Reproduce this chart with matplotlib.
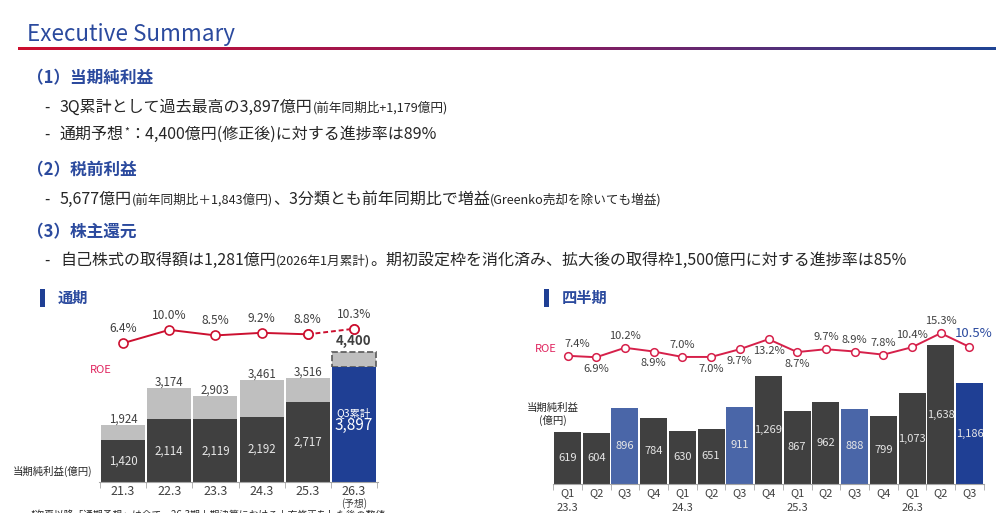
import numpy as np
import matplotlib
matplotlib.use("Agg")
import matplotlib.pyplot as plt
from matplotlib.colors import LinearSegmentedColormap

plt.rcParams['font.family'] = ['Noto Sans CJK JP', 'DejaVu Sans']

W, H = 999, 513

# ---- 通期 data ----
fy_labels = ['21.3', '22.3', '23.3', '24.3', '25.3', '26.3']
fy_total = [1924, 3174, 2903, 3461, 3516]          # 通期実績
fy_q3 = [1420, 2114, 2119, 2192, 2717, 3897]       # Q3累計
fy_forecast = 4400                                   # 26.3 通期予想
fy_roe = [6.4, 10.0, 8.5, 9.2, 8.8, 10.3]

# ---- 四半期 data ----
q_labels = ['Q1', 'Q2', 'Q3', 'Q4'] * 3 + ['Q1', 'Q2', 'Q3']
q_years = ['23.3', '24.3', '25.3', '26.3']
q_profit = [619, 604, 896, 784, 630, 651, 911, 1269, 867, 962, 888, 799, 1073, 1638, 1186]
q_roe = [7.4, 6.9, 10.2, 8.9, 7.0, 7.0, 9.7, 13.2, 8.7, 9.7, 8.9, 7.8, 10.4, 15.3, 10.5]
q_roe_side = ['a', 'b', 'a', 'b', 'a', 'b', 'b', 'b', 'b', 'a', 'a', 'a', 'a', 'a', 'r']

BLUE = '#2b4a9e'
DEEP = '#1f3f94'
MID = '#4a66a8'
DARK = '#404040'
LIGHT = '#bfbfbf'
TXT = '#262626'
RED = '#cc1030'

fig = plt.figure(figsize=(W / 100, H / 100), dpi=100)
renderer = fig.canvas.get_renderer()


def px_axes(x0, y0, x1, y1):
    return fig.add_axes([x0 / W, 1 - y1 / H, (x1 - x0) / W, (y1 - y0) / H])


def ftext(x, y, s, **kw):
    return fig.text(x / W, 1 - y / H, s, **kw)


def seg_line(x, y, parts):
    # parts: (text, size, dy) drawn one after another on a common baseline
    for s, size, dy in parts:
        t = ftext(x, y - dy, s, fontsize=size, color=TXT, va='baseline', ha='left')
        bb = t.get_window_extent(renderer)
        x = bb.x1


BIG, SMALL = 11.5, 9.1

# ---- header ----
ftext(27, 34, 'Executive Summary', fontsize=16.2, color=BLUE, va='center')
gax = px_axes(18, 47, 995, 50)
cmap = LinearSegmentedColormap.from_list('g', [(0, '#cc0e2e'), (0.55, '#8a1a5e'), (1, '#1f4494')])
gax.imshow(np.linspace(0, 1, 256)[None, :], aspect='auto', cmap=cmap, extent=[0, 1, 0, 1])
gax.axis('off')

ftext(27, 78, '（1）当期純利益', fontsize=12, color=BLUE, fontweight='bold', va='center')
ftext(27, 170, '（2）税前利益', fontsize=12, color=BLUE, fontweight='bold', va='center')
ftext(27, 232, '（3）株主還元', fontsize=12, color=BLUE, fontweight='bold', va='center')

for yb in [112, 139, 204, 265]:
    ftext(44, yb, '-', fontsize=11, color=TXT, va='baseline')

seg_line(60, 112, [('3Q累計として過去最高の3,897億円', BIG, 0), ('(前年同期比+1,179億円)', SMALL, 0)])
seg_line(60, 139, [('通期予想', BIG, 0), ('*', 7.5, 5), ('：4,400億円(修正後)に対する進捗率は89%', BIG, 0)])
seg_line(60, 204, [('5,677億円', BIG, 0), ('(前年同期比＋1,843億円)', SMALL, 0),
                   ('、3分類とも前年同期比で増益', BIG, 0),
                   ('(Greenko売却を除いても増益)', SMALL, 0)])
seg_line(60, 265, [('自己株式の取得額は1,281億円', BIG, 0), ('(2026年1月累計)', SMALL, 0),
                   ('。期初設定枠を消化済み、拡大後の取得枠1,500億円に対する進捗率は85%', BIG, 0)])

# ---- section markers ----
for x0, title in [(40, '通期'), (544, '四半期')]:
    m = px_axes(x0, 289, x0 + 4.5, 307)
    m.set_facecolor(DEEP)
    m.set_xticks([]); m.set_yticks([])
    for sp in m.spines.values():
        sp.set_visible(False)
    ftext(x0 + 18, 298, title, fontsize=11, color=BLUE, fontweight='bold', va='center')


def style_axis(ax, n):
    for k in ['top', 'left', 'right']:
        ax.spines[k].set_visible(False)
    ax.spines['bottom'].set_color('#a6a6a6')
    ax.set_yticks([])
    ax.set_xticks(range(n))
    ax.set_xticks(np.arange(-0.5, n), minor=True)
    ax.tick_params(axis='x', which='major', length=0, pad=2, labelsize=9, labelcolor=DARK)
    ax.tick_params(axis='x', which='minor', length=4, color='#a6a6a6')
    ax.patch.set_alpha(0)


# ---- 通期 chart ----
ax1 = px_axes(99, 290, 378, 482)
x1 = np.arange(len(fy_labels))
ax1.set_xlim(-0.52, 5.52)
ax1.set_ylim(0, 192 * 33.8)
ax1.bar(x1[:5], fy_total, width=0.95, color=LIGHT)
ax1.bar(x1[5], fy_forecast - fy_q3[5], bottom=fy_q3[5], width=0.95, color=LIGHT,
        edgecolor='#595959', linestyle='--', linewidth=1.2)
ax1.bar(x1, fy_q3, width=0.95, color=[DARK] * 5 + [DEEP])
style_axis(ax1, len(fy_labels))
ax1.set_xticklabels(fy_labels)
ax1.annotate('(予想)', (5, 0), xytext=(0, -15.5), textcoords='offset points',
             ha='center', va='center', fontsize=7, color=DARK, annotation_clip=False)
for i, v in enumerate(fy_total):
    ax1.annotate(f'{v:,}', (i, v), xytext=(0, 4), textcoords='offset points',
                 ha='center', va='center', fontsize=8.3, color=DARK)
for i, v in enumerate(fy_q3[:5]):
    ax1.text(i, v / 2, f'{v:,}', ha='center', va='center', fontsize=8.3, color='#e6e6e6')
ax1.annotate(f'{fy_forecast:,}', (5, fy_forecast), xytext=(0, 7.5), textcoords='offset points',
             ha='center', va='center', fontsize=9.5, fontweight='bold', color=DARK)
ax1.annotate('Q3累計', (5, fy_q3[5]), xytext=(0, -33), textcoords='offset points',
             ha='center', va='center', fontsize=7.5, color='white')
ax1.annotate(f'{fy_q3[5]:,}', (5, fy_q3[5]), xytext=(0, -42), textcoords='offset points',
             ha='center', va='center', fontsize=11, color='white')

ax1r = ax1.twinx()
ax1r.set_ylim(-31.2, 20.8)
ax1r.axis('off')
ax1r.plot(x1[:5], fy_roe[:5], color=RED, lw=1.4, marker='o', ms=6.5, mfc='white', mec=RED, mew=1.2)
ax1r.plot(x1[4:], fy_roe[4:], color=RED, lw=1.4, ls='--', marker='o', ms=6.5, mfc='white',
          mec=RED, mew=1.2, dashes=(2.5, 1.5))
ax1r.plot(x1[5], fy_roe[5], ls='none', marker='o', ms=6.5, mfc='white', mec=RED, mew=1.2)
for i, v in enumerate(fy_roe):
    ax1r.annotate(f'{v:.1f}%', (i, v), xytext=(0, 10.5), textcoords='offset points',
                  ha='center', va='center', fontsize=8.6, color=DARK)

ftext(101, 370, 'ROE', fontsize=8, color='#e0245e', ha='center', va='center')
ftext(53, 471, '当期純利益(億円)', fontsize=7.5, color=TXT, ha='center', va='center')

# ---- 四半期 chart ----
ax2 = px_axes(552.6, 300, 984.4, 484)
x2 = np.arange(len(q_profit))
ax2.set_xlim(-0.52, 14.52)
ax2.set_ylim(0, 184 * 11.8)
q_colors = [DEEP if i == len(q_profit) - 1 else (MID if q == 'Q3' else DARK)
            for i, q in enumerate(q_labels)]
ax2.bar(x2, q_profit, width=0.94, color=q_colors)
style_axis(ax2, len(q_profit))
ax2.set_xticklabels(q_labels)
ax2.tick_params(axis='x', which='major', labelsize=8, pad=3)
for i, v in enumerate(q_profit):
    ax2.text(i, v / 2, f'{v:,}', ha='center', va='center', fontsize=8, color='#e6e6e6')
for j, yr in enumerate(q_years):
    ax2.annotate(yr, (4 * j, 0), xytext=(0, -17.5), textcoords='offset points',
                 ha='center', va='center', fontsize=8, color=DARK, annotation_clip=False)

ax2r = ax2.twinx()
ax2r.set_ylim(-37.4, 26.9)
ax2r.axis('off')
ax2r.plot(x2, q_roe, color='#d6204a', lw=1.4, marker='o', ms=5.5, mfc='white', mec='#d6204a', mew=1.1)
for i, (v, side) in enumerate(zip(q_roe, q_roe_side)):
    if side == 'a':
        off, kw = (7 if i == 0 else 0, 8.5), dict(fontsize=8, color=DARK)
    elif side == 'b':
        off, kw = (0, -8.5), dict(fontsize=8, color=DARK)
    else:
        off, kw = (3, 10), dict(fontsize=9.5, color=BLUE)
    ax2r.annotate(f'{v:.1f}%', (i, v), xytext=off, textcoords='offset points',
                  ha='center', va='center', **kw)

ftext(546, 349, 'ROE', fontsize=8, color='#e0245e', ha='center', va='center')
ftext(553, 408, '当期純利益', fontsize=7.5, color=TXT, ha='center', va='center')
ftext(553, 420, '(億円)', fontsize=7.5, color=TXT, ha='center', va='center')

# ---- footnote (cut at page edge) ----
ftext(30, 510, '*次頁以降「通期予想」は全て、26.3期上期決算における上方修正をした後の数値',
      fontsize=7, color=TXT, va='top')

fig.savefig('out.png', dpi=100)
